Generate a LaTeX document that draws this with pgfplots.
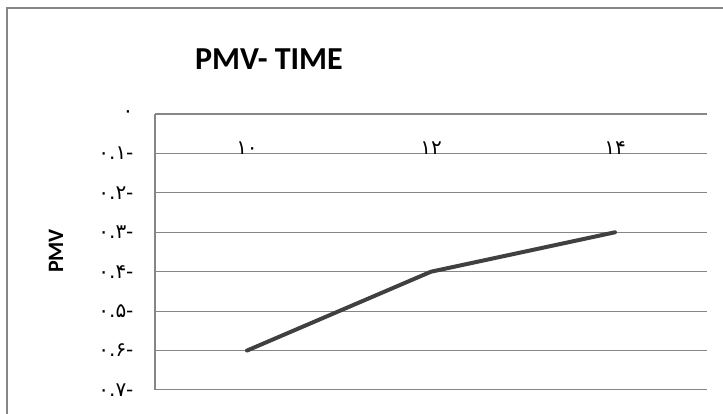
\documentclass[border=0pt]{standalone}
\usepackage{pgfplots}
\pgfplotsset{compat=1.18}
\usepackage{fontspec}
\setmainfont{Carlito}
\newfontfamily\fadigits{DejaVu Sans}
\definecolor{gridgray}{HTML}{868686}
\definecolor{linegray}{HTML}{404040}
\begin{document}
\begin{tikzpicture}[x=1pt,y=1pt]
\useasboundingbox (0,0) rectangle (723,414);
% outer chart border (cropped on the right and bottom)
\draw[gridgray, line width=1.5pt] (7,-20) -- (7,406) -- (760,406);
\begin{axis}[
    at={(155pt,24pt)}, anchor=south west,
    width=552pt, height=276pt, scale only axis,
    xmin=-0.5, xmax=2.5,
    ymin=-0.7, ymax=0,
    axis x line*=top, axis y line*=left,
    axis line style={gridgray, line width=1.8pt},
    ymajorgrids,
    grid style={gridgray, line width=1pt},
    major tick length=0pt,
    xtick={0,1,2},
    xticklabels={۱۰,۱۲,۱۴},
    ytick={-0.7,-0.6,-0.5,-0.4,-0.3,-0.2,-0.1,0},
    yticklabels={۰.۷-,۰.۶-,۰.۵-,۰.۴-,۰.۳-,۰.۲-,۰.۱-,۰},
    ticklabel style={font=\fadigits\fontsize{20}{22}\selectfont, text=black},
    xticklabel style={anchor=base, yshift=-40pt},
    yticklabel style={xshift=-18pt},
]
\addplot[linegray, line width=4pt, line join=round, line cap=round]
  coordinates {(0,-0.6) (1,-0.4) (2,-0.3)};
\end{axis}
\node[font=\bfseries\fontsize{32}{36}\selectfont, anchor=base] at (269,344) {PMV- TIME};
\node[font=\bfseries\fontsize{22}{26}\selectfont, rotate=90] at (56,163) {PMV};
\end{tikzpicture}
\end{document}
